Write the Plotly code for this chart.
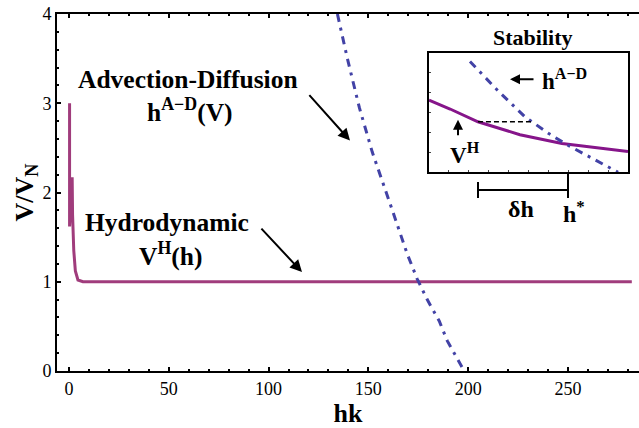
import plotly.graph_objects as go

# ---- main chart data ----
hyd_hk = [0.3, 0.3, 1.6, 1.8, 2.4, 3.2, 4.5, 7.0, 282.0]
hyd_v = [3.0, 1.62, 2.17, 1.75, 1.35, 1.12, 1.02, 1.0, 1.0]

ad_v = [4.0, 3.5, 2.95, 2.45, 1.9, 1.31, 1.03, 0.8, 0.56, 0.34, 0.0]
ad_hk = [134.5, 139.5, 145.5, 152.0, 160.5, 169.5, 174.5, 179.5, 185.5, 189.5, 198.0]

x_ticks = [0, 50, 100, 150, 200, 250]
y_ticks = [0, 1, 2, 3, 4]

# ---- inset (schematic, arbitrary units) ----
in_h_x = [0.0, 1.06, 2.46, 4.57, 6.68, 8.59, 10.0]
in_h_y = [3.62, 3.17, 2.53, 1.88, 1.44, 1.19, 1.04]
in_ad_x = [2.06, 3.5, 4.82, 6.0, 6.93, 8.2, 9.5]
in_ad_y = [5.55, 4.05, 2.78, 1.95, 1.38, 0.7, 0.0]
in_dash_x = [2.46, 5.2]
in_dash_y = [2.53, 2.53]

W, H = 639, 428
ML, MR, MT, MB = 57, 0, 14, 53
PW, PH = W - ML - MR, H - MT - MB

def px(xs):
    return (xs - ML) / PW

def py(ys):
    return (H - MB - ys) / PH

FONT = "Liberation Serif, Times New Roman, DejaVu Serif, serif"
PURPLE = "#A03C7C"
PURPLE2 = "#86158A"
BLUE = "#4242A6"

fig = go.Figure()
fig.add_trace(go.Scatter(x=hyd_hk, y=hyd_v, mode="lines",
                         line=dict(color=PURPLE, width=3), showlegend=False))
fig.add_trace(go.Scatter(x=ad_hk, y=ad_v, mode="lines",
                         line=dict(color=BLUE, width=3, dash="8px,6px,3px,6px"),
                         showlegend=False))

# inset traces
fig.add_trace(go.Scatter(x=in_h_x, y=in_h_y, mode="lines", xaxis="x2", yaxis="y2",
                         line=dict(color=PURPLE2, width=3), showlegend=False))
fig.add_trace(go.Scatter(x=in_ad_x, y=in_ad_y, mode="lines", xaxis="x2", yaxis="y2",
                         line=dict(color=BLUE, width=3, dash="8px,6px,3px,6px"),
                         showlegend=False))
fig.add_trace(go.Scatter(x=in_dash_x, y=in_dash_y, mode="lines", xaxis="x2", yaxis="y2",
                         line=dict(color="black", width=1.5, dash="5px,3px"),
                         showlegend=False))

axis_common = dict(showgrid=False, zeroline=False, showline=True, linecolor="black",
                   linewidth=2, ticks="inside", tickcolor="black", ticklen=4,
                   tickwidth=1.5,
                   tickfont=dict(family=FONT, size=18, color="black"))

fig.update_layout(
    width=W, height=H,
    margin=dict(l=ML, r=MR, t=MT, b=MB, pad=0),
    plot_bgcolor="white", paper_bgcolor="white",
    hovermode=False,
    xaxis=dict(range=[-6.0, 285.6], tickvals=x_ticks, mirror="ticks",
               title=dict(text="<b>hk</b>", font=dict(family=FONT, size=26, color="black"),
                          standoff=11),
               minor=dict(ticks="inside", ticklen=2, dtick=10, tickcolor="black"),
               **axis_common),
    yaxis=dict(range=[0, 4], tickvals=y_ticks,
               title=dict(text="<b>V/V<sub>N</sub></b>",
                          font=dict(family=FONT, size=26, color="black"), standoff=1),
               minor=dict(ticks="inside", ticklen=2, dtick=0.2, tickcolor="black"),
               **axis_common),
    xaxis2=dict(domain=[px(429), px(628)], anchor="y2", range=[0, 10],
                showgrid=False, zeroline=False, showline=True, mirror=True,
                linecolor="black", linewidth=2, ticks="inside", ticklen=2,
                dtick=1, showticklabels=False),
    yaxis2=dict(domain=[py(174), py(53)], anchor="x2", range=[0, 6],
                showgrid=False, zeroline=False, showline=True, mirror=True,
                linecolor="black", linewidth=2, ticks="inside", ticklen=2,
                dtick=1, showticklabels=False),
)
fig.update_xaxes(tickprefix="<b>", ticksuffix="</b>", selector=dict(anchor="y"))
fig.update_yaxes(tickprefix="<b>", ticksuffix="</b>", selector=dict(anchor="x"))


def label(xs, ys, text, size):
    fig.add_annotation(x=px(xs), y=py(ys), xref="paper", yref="paper",
                       xanchor="center", yanchor="middle", text=text,
                       showarrow=False, font=dict(family=FONT, size=size, color="black"))


def arrow(xs, ys, dx, dy, width=2, size=1.2):
    # tip at (xs, ys); tail offset by (dx, dy) pixels
    fig.add_annotation(x=px(xs), y=py(ys), ax=dx, ay=dy, xref="paper", yref="paper",
                       axref="pixel", ayref="pixel", text="", showarrow=True,
                       arrowhead=2, arrowsize=size, arrowwidth=width, arrowcolor="black")


label(188, 80, "<b>Advection-Diffusion</b>", 25.5)
label(190, 112, "<b>h<sup>A−D</sup>(V)</b>", 25.5)
label(167, 225, "<b>Hydrodynamic</b>", 25.5)
label(170, 257, "<b>V<sup>H</sup>(h)</b>", 25.5)

arrow(350, 142, -42, -47)
arrow(302, 275, -42, -45)

# inset labels
label(532, 38, "<b>Stability</b>", 22)
label(564, 80, "<b>h<sup>A−D</sup></b>", 23)
arrow(510, 80, 25, 0, width=2, size=1.0)
arrow(458, 121, 0, 17, width=2, size=1.0)
label(465, 155, "<b>V<sup>H</sup></b>", 23)
label(521, 211, "<b>δh</b>", 24)
label(574, 214, "<b>h<sup>*</sup></b>", 24)

# delta-h bracket
lw = dict(color="black", width=2)
fig.add_shape(type="line", xref="paper", yref="paper", x0=px(478), x1=px(568),
              y0=py(192), y1=py(192), line=lw)
fig.add_shape(type="line", xref="paper", yref="paper", x0=px(478), x1=px(478),
              y0=py(184), y1=py(200), line=lw)
fig.add_shape(type="line", xref="paper", yref="paper", x0=px(568), x1=px(568),
              y0=py(174), y1=py(200), line=lw)

# remove the default 8px page margin so the 639x428 figure fills the window
fig.write_html("out.html", config={"displayModeBar": False},
               post_script="document.body.style.margin='0';")
